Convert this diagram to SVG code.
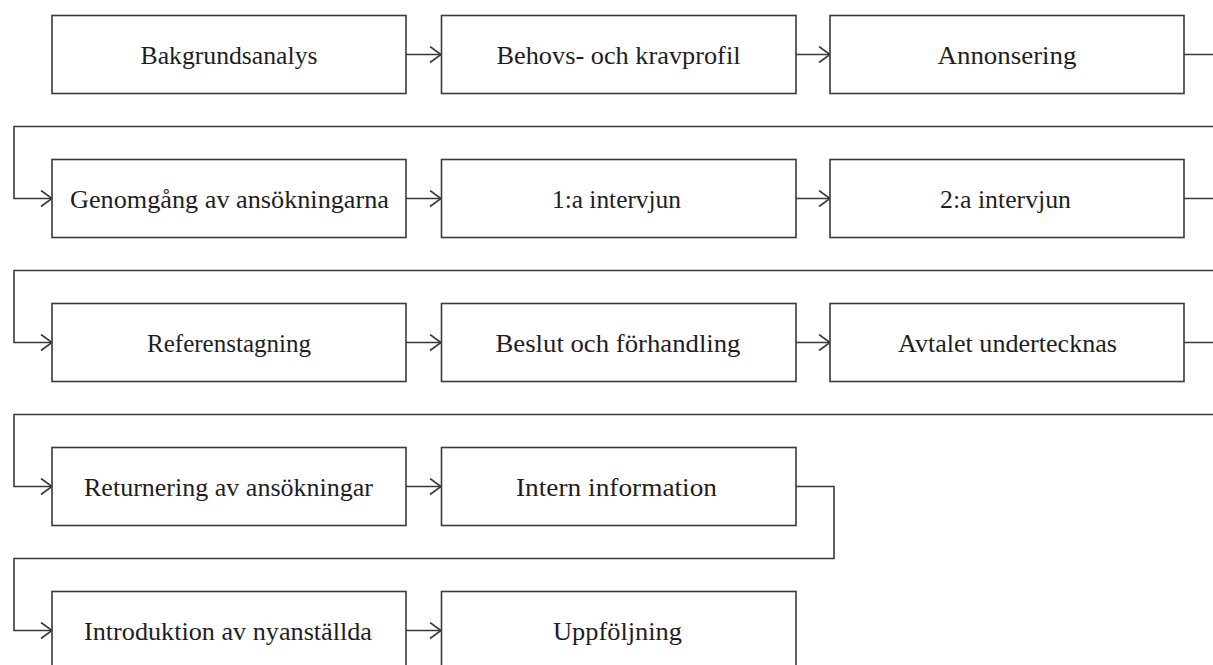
<svg xmlns="http://www.w3.org/2000/svg" width="1213" height="665" viewBox="0 0 1213 665">
  <style>
    .box { fill: #ffffff; stroke: #3a3a3a; stroke-width: 1.6; }
    .lbl { font-family: "Liberation Serif", "Times New Roman", serif; font-size: 25px; fill: #1e1e1e; text-anchor: middle; }
    .con { fill: none; stroke: #3a3a3a; stroke-width: 1.6; }
  </style>
  <defs>
    <marker id="arr" markerUnits="userSpaceOnUse" markerWidth="14" markerHeight="20" refX="12" refY="9" orient="auto">
      <path d="M1,1 L12,9 L1,17" fill="none" stroke="#3a3a3a" stroke-width="1.6"/>
    </marker>
  </defs>
  <rect width="1213" height="665" fill="#ffffff"/>

  <g id="connectors">
    <path class="con" d="M406,54.5 H441" marker-end="url(#arr)"/>
    <path class="con" d="M796,54.5 H830" marker-end="url(#arr)"/>
    <path class="con" d="M1184,54.5 H1225 V126.5 H14 V198.5 H52" marker-end="url(#arr)"/>
    <path class="con" d="M406,198.5 H441" marker-end="url(#arr)"/>
    <path class="con" d="M796,198.5 H830" marker-end="url(#arr)"/>
    <path class="con" d="M1184,198.5 H1225 V270.5 H14 V342.5 H52" marker-end="url(#arr)"/>
    <path class="con" d="M406,342.5 H441" marker-end="url(#arr)"/>
    <path class="con" d="M796,342.5 H830" marker-end="url(#arr)"/>
    <path class="con" d="M1184,342.5 H1225 V414.5 H14 V486.5 H52" marker-end="url(#arr)"/>
    <path class="con" d="M406,486.5 H441" marker-end="url(#arr)"/>
    <path class="con" d="M796,486.5 H834 V558.5 H14 V630.5 H52" marker-end="url(#arr)"/>
    <path class="con" d="M406,630.5 H441" marker-end="url(#arr)"/>
  </g>

  <g id="n1"><rect class="box" x="52" y="15.5" width="354" height="78"/><text class="lbl" x="229" y="64" textLength="177" lengthAdjust="spacingAndGlyphs">Bakgrundsanalys</text></g>
  <g id="n2"><rect class="box" x="441.5" y="15.5" width="354.5" height="78"/><text class="lbl" x="618.5" y="64" textLength="244" lengthAdjust="spacingAndGlyphs">Behovs- och kravprofil</text></g>
  <g id="n3"><rect class="box" x="830" y="15.5" width="354" height="78"/><text class="lbl" x="1007" y="64" textLength="139" lengthAdjust="spacingAndGlyphs">Annonsering</text></g>

  <g id="n4"><rect class="box" x="52" y="159.5" width="354" height="78"/><text class="lbl" x="229.5" y="208" textLength="319" lengthAdjust="spacingAndGlyphs">Genomgång av ansökningarna</text></g>
  <g id="n5"><rect class="box" x="441.5" y="159.5" width="354.5" height="78"/><text class="lbl" x="616.5" y="208" textLength="129" lengthAdjust="spacingAndGlyphs">1:a intervjun</text></g>
  <g id="n6"><rect class="box" x="830" y="159.5" width="354" height="78"/><text class="lbl" x="1005.5" y="208" textLength="131" lengthAdjust="spacingAndGlyphs">2:a intervjun</text></g>

  <g id="n7"><rect class="box" x="52" y="303.5" width="354" height="78"/><text class="lbl" x="229" y="352" textLength="164" lengthAdjust="spacingAndGlyphs">Referenstagning</text></g>
  <g id="n8"><rect class="box" x="441.5" y="303.5" width="354.5" height="78"/><text class="lbl" x="618" y="352" textLength="245" lengthAdjust="spacingAndGlyphs">Beslut och förhandling</text></g>
  <g id="n9"><rect class="box" x="830" y="303.5" width="354" height="78"/><text class="lbl" x="1007.5" y="352" textLength="219" lengthAdjust="spacingAndGlyphs">Avtalet undertecknas</text></g>

  <g id="n10"><rect class="box" x="52" y="447.5" width="354" height="78"/><text class="lbl" x="228.5" y="496" textLength="289" lengthAdjust="spacingAndGlyphs">Returnering av ansökningar</text></g>
  <g id="n11"><rect class="box" x="441.5" y="447.5" width="354.5" height="78"/><text class="lbl" x="616.5" y="496" textLength="201" lengthAdjust="spacingAndGlyphs">Intern information</text></g>

  <g id="n12"><rect class="box" x="52" y="591.5" width="354" height="78"/><text class="lbl" x="228" y="640" textLength="288" lengthAdjust="spacingAndGlyphs">Introduktion av nyanställda</text></g>
  <g id="n13"><rect class="box" x="441.5" y="591.5" width="354.5" height="78"/><text class="lbl" x="617.5" y="640" textLength="129" lengthAdjust="spacingAndGlyphs">Uppföljning</text></g>
</svg>
